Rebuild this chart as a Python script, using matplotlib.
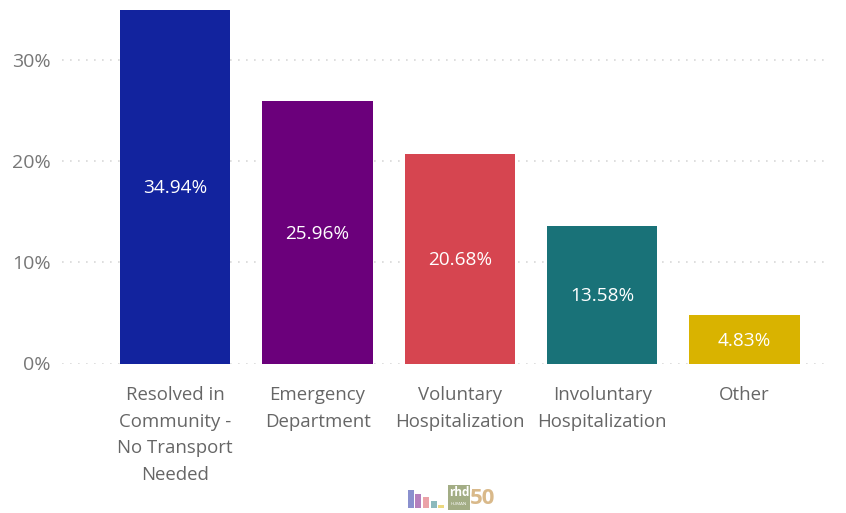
import matplotlib
matplotlib.use("Agg")
import matplotlib.pyplot as plt
from matplotlib.patches import Rectangle

W, H = 846, 513

categories = ["Resolved in\nCommunity -\nNo Transport\nNeeded", "Emergency\nDepartment",
              "Voluntary\nHospitalization", "Involuntary\nHospitalization", "Other"]
shares = [34.94, 25.96, 20.68, 13.58, 4.83]
bar_colors = ["#12239E", "#6B007B", "#D64550", "#197278", "#D9B300"]
y_ticks = [0, 10, 20, 30]
y_tick_labels = ["0%", "10%", "20%", "30%"]

# footer badge
badge_shares = [34.94, 25.96, 20.68, 13.58, 4.83]
badge_colors = ["#8A90CE", "#B57FBD", "#EBA2A8", "#8CB9BC", "#ECD980"]

plt.rcParams["font.family"] = ["Open Sans", "DejaVu Sans"]
fig = plt.figure(figsize=(W / 100, H / 100), dpi=100, facecolor="white")


def px_axes(x0, y0, x1, y1):
    """Axes placed by pixel box, with y measured from the top edge."""
    return fig.add_axes([x0 / W, 1 - y1 / H, (x1 - x0) / W, (y1 - y0) / H])


ax = px_axes(62, 0, 830, 363.5)
ax.set_xlim((62 - 175.3) / 142.3, (830 - 175.3) / 142.3)
ax.set_ylim(0, 363.5 / 10.13)
ax.set_axisbelow(True)
ax.yaxis.grid(True, color="#D8D8D8", linewidth=1.2, linestyle=(0, (1, 3.8)))
ax.xaxis.grid(False)
for spine in ax.spines.values():
    spine.set_visible(False)

positions = list(range(len(categories)))
ax.bar(positions, shares, width=0.775, color=bar_colors, linewidth=0)
for pos, val in zip(positions, shares):
    ax.annotate(f"{val:.2f}%", (pos, val / 2), xytext=(0, -1.2), textcoords="offset points",
                ha="center", va="center", color="white", fontsize=13.7)

ax.set_xticks(positions)
ax.set_xticklabels(categories, fontsize=13.4, color="#666666", linespacing=1.63, va="top")
ax.set_yticks(y_ticks)
ax.set_yticklabels(y_tick_labels, fontsize=14, color="#777777")
ax.tick_params(axis="both", length=0)
ax.tick_params(axis="x", pad=16)
ax.tick_params(axis="y", pad=8)

# miniature of the chart in the footer
mini = px_axes(406, 488, 446, 508)
mini.bar(range(len(badge_shares)), badge_shares, width=0.8, color=badge_colors, linewidth=0)
mini.set_xlim(-0.6, 4.6)
mini.set_ylim(0, 38)
mini.axis("off")

# organisation mark and anniversary number
fig.add_artist(Rectangle((448 / W, 1 - 510 / H), 22 / W, 25 / H,
                         transform=fig.transFigure, color="#A3AD85", linewidth=0))
fig.text(459 / W, 1 - 492 / H, "rhd", color="white", fontsize=8.5, fontweight="bold",
         ha="center", va="center")
fig.text(459 / W, 1 - 504 / H, "HUMAN", color="white", fontsize=3.2, ha="center", va="center")
fig.text(483 / W, 1 - 499 / H, "50", color="#D9B98A", fontsize=16, fontweight="bold",
         ha="center", va="center")

fig.savefig("out.png", dpi=100, facecolor="white")
